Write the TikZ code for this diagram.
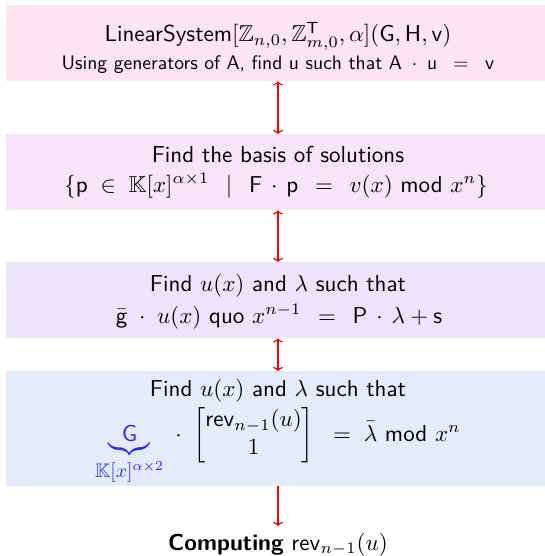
\documentclass[tikz,border=0pt]{standalone}
\usepackage{amsmath,amssymb}
\usepackage{graphicx}
\usetikzlibrary{arrows.meta}
\renewcommand{\familydefault}{\sfdefault}
\definecolor{boxA}{RGB}{255,228,242}
\definecolor{boxB}{RGB}{248,228,248}
\definecolor{boxC}{RGB}{237,228,252}
\definecolor{boxD}{RGB}{228,236,252}
\definecolor{bracecol}{RGB}{40,40,245}
\tikzset{
  panel/.style={fill=#1, draw=none, minimum width=544pt, inner sep=0pt, anchor=north},
  big/.style={font=\normalsize, inner sep=0pt, anchor=base, scale=2.305, transform shape},
  small/.style={font=\normalsize, inner sep=0pt, anchor=base, scale=1.96, transform shape},
  link/.style={red, line width=1.2pt, {To[length=4pt,width=10pt]}-{To[length=4pt,width=10pt]}},
  linkone/.style={red, line width=1.2pt, -{To[length=4pt,width=10pt]}}
}
\begin{document}
\begin{tikzpicture}[x=1pt,y=1pt]
\useasboundingbox (0,0) rectangle (545,-556);
\node[panel=boxA, minimum height=76pt] (b1) at (278,-5) {};
\node[panel=boxB, minimum height=76pt] (b2) at (278,-134) {};
\node[panel=boxC, minimum height=76pt] (b3) at (278,-262) {};
\node[panel=boxD, minimum height=115pt] (b4) at (278,-371) {};

\node[big] (t11) at (278,-42) {LinearSystem$[\mathbb{Z}_{n,0},\mathbb{Z}^{\mathsf{T}}_{m,0},\alpha](\mathsf{G},\mathsf{H},\mathsf{v})$};
\node[small] (t12) at (278,-70) {Using generators of A, find u such that $\mathsf{A}\;\cdot\;\mathsf{u}\;\;=\;\;\mathsf{v}$};

\node[big] (t21) at (278,-162) {Find the basis of solutions};
\node[big] (t22) at (276,-192) {$\{\mathsf{p}\;\in\;\mathbb{K}[x]^{\alpha\times1}\;\,\mid\;\,\mathsf{F}\,\cdot\,\mathsf{p}\;\,=\;\,v(x)\ \textsf{mod}\ x^n\}$};

\node[big] (t31) at (278,-291) {Find $u(x)$ and $\lambda$ such that};
\node[big] (t32) at (279,-323) {$\bar{\mathsf{g}}\;\cdot\;u(x)\ \textsf{quo}\ x^{n-1}\;\,=\;\,\mathsf{P}\,\cdot\,\lambda+\mathsf{s}$};

\node[big] (t41) at (278,-396) {Find $u(x)$ and $\lambda$ such that};
\node[big] (t42) at (278,-441) {${\color{bracecol}\underbrace{\mathsf{G}}_{\scalebox{0.85}{$\textstyle\mathbb{K}[x]^{\alpha\times2}$}}}\;\cdot\;\begin{bmatrix}\mathsf{rev}_{n-1}(u)\\ 1\end{bmatrix}\;\;=\;\bar{\lambda}\ \textsf{mod}\ x^n$};

\node[big] (t5) at (278,-550) {\textbf{Computing} $\mathsf{rev}_{n-1}(u)$};
\coordinate (tip) at (278,-526);

\draw[link] (b1.south) -- (b2.north);
\draw[link] (b2.south) -- (b3.north);
\draw[link] (b3.south) -- (b4.north);
\draw[linkone] (b4.south) -- (tip);
\end{tikzpicture}
\end{document}
